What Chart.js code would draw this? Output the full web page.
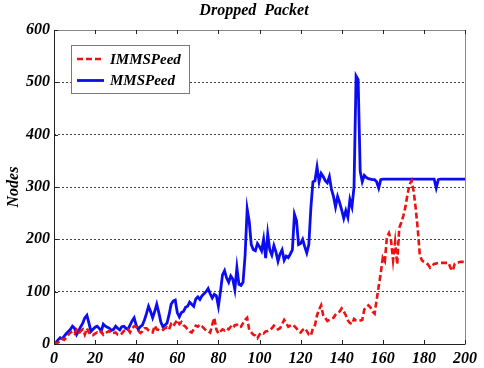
<!DOCTYPE html>
<html>
<head>
<meta charset="utf-8">
<script src="https://cdn.jsdelivr.net/npm/chart.js@4/dist/chart.umd.min.js"></script>
<style>
html,body{margin:0;padding:0;background:#fff;}
#wrap{width:484px;height:368px;position:relative;}
</style>
</head>
<body>
<div id="wrap"><canvas id="c" width="484" height="368"></canvas></div>
<script>
const chartTitle = "Dropped  Packet";
const yTitle = "Nodes";
const xTicks = [0,20,40,60,80,100,120,140,160,180,200];
const yTicks = [0,100,200,300,400,500,600];
const seriesNames = ["IMMSPeed","MMSPeed"];

const immspeed = [0,2,3,5,10,8,12,18,22,24,20,27,20,25,28,18,30,22,17,17,
20,22,20,24,18,22,23,25,20,21,22,18,17,20,25,26,28,22,30,34,
33,26,21,24,30,30,26,23,22,35,28,27,25,27,30,32,28,38,34,40,
46,38,42,36,33,28,24,22,28,35,33,37,34,30,26,25,22,37,50,28,
20,24,28,26,30,28,33,30,36,37,32,33,40,46,50,27,22,18,16,11,
18,22,20,24,25,27,30,35,33,28,30,38,46,40,33,35,37,34,30,24,
22,27,30,25,18,16,30,36,55,66,74,55,50,44,46,48,50,56,60,62,
68,62,55,45,40,38,48,45,44,45,46,66,70,74,70,62,58,84,110,135,
165,158,204,212,198,160,195,152,222,232,245,262,285,305,312,292,260,220,170,160,
157,155,152,146,150,153,154,155,155,155,155,155,155,145,140,153,155,156,157,157,157];

const mmspeed = [0,3,8,12,10,15,20,24,28,34,30,18,25,33,40,50,55,40,24,28,
32,34,30,24,38,34,32,30,26,28,34,30,27,33,34,30,28,36,44,50,
36,28,33,36,46,58,72,62,50,62,76,60,42,33,36,40,56,76,82,84,
60,52,60,62,70,72,80,76,72,86,90,85,92,96,100,106,96,88,95,92,
72,100,132,140,126,118,130,124,104,146,114,112,118,170,258,234,190,180,178,192,
186,178,200,164,210,180,170,188,176,158,172,180,160,168,165,172,180,248,236,190,
192,200,186,174,190,260,310,312,338,310,326,320,312,308,320,296,282,262,282,270,
256,240,255,242,276,262,300,512,505,330,310,322,318,316,315,314,314,310,298,314,
315,315,315,315,315,315,315,315,315,315,315,315,315,315,315,315,315,315,315,315,
315,315,315,315,315,315,298,314,315,315,315,315,315,315,315,315,315,315,315,315,315];

const labels = immspeed.map((_, i) => i);

const serif = "'Liberation Serif','DejaVu Serif',serif";

const boxPlugin = {
  id: 'boxPlugin',
  beforeDraw(chart) {
    const {ctx} = chart;
    ctx.save();
    ctx.fillStyle = '#fff';
    ctx.fillRect(0, 0, chart.width, chart.height);
    ctx.restore();
  },
  afterDatasetsDraw(chart) {
    const {ctx, chartArea: a} = chart;
    const xs = chart.scales.x, ys = chart.scales.y;
    ctx.save();
    ctx.strokeStyle = '#222';
    ctx.lineWidth = 1;
    ctx.beginPath();
    ctx.moveTo(a.left + 0.5, a.top + 0.5);
    ctx.lineTo(a.left + 0.5, a.bottom + 0.5);
    ctx.lineTo(a.right + 0.5, a.bottom + 0.5);
    ctx.stroke();
    ctx.strokeStyle = '#888';
    ctx.beginPath();
    ctx.moveTo(a.left + 0.5, a.top + 0.5);
    ctx.lineTo(a.right + 0.5, a.top + 0.5);
    ctx.lineTo(a.right + 0.5, a.bottom + 0.5);
    ctx.stroke();
    ctx.strokeStyle = '#222';
    ctx.beginPath();
    xTicks.forEach(v => {
      const px = Math.round(xs.getPixelForValue(v)) + 0.5;
      ctx.moveTo(px, a.bottom); ctx.lineTo(px, a.bottom - 4);
      ctx.moveTo(px, a.top); ctx.lineTo(px, a.top + 4);
    });
    yTicks.forEach(v => {
      const py = Math.round(ys.getPixelForValue(v)) + 0.5;
      ctx.moveTo(a.left, py); ctx.lineTo(a.left + 4, py);
    });
    ctx.stroke();

    const lx = 71, ly = 45, lw = 118, lh = 48;
    ctx.fillStyle = '#fff';
    ctx.fillRect(lx, ly, lw, lh);
    ctx.strokeStyle = '#777';
    ctx.lineWidth = 1;
    ctx.strokeRect(lx + 0.5, ly + 0.5, lw, lh);
    chart.data.datasets.forEach((ds, i) => {
      const y = ly + 14 + i * 21.5;
      ctx.strokeStyle = ds.borderColor;
      ctx.lineWidth = ds.borderWidth;
      ctx.setLineDash(ds.borderDash || []);
      ctx.beginPath();
      ctx.moveTo(lx + 6, y);
      ctx.lineTo(lx + 33, y);
      ctx.stroke();
      ctx.setLineDash([]);
      ctx.fillStyle = '#000';
      ctx.font = "italic bold 15px " + serif;
      ctx.textBaseline = 'middle';
      ctx.textAlign = 'left';
      ctx.fillText(ds.label, lx + 39, y + 1);
    });
    ctx.fillStyle = '#000';
    ctx.font = "italic bold 16px " + serif;
    ctx.textAlign = 'center';
    ctx.textBaseline = 'middle';
    ctx.fillText(chartTitle, 254, 11);
    ctx.restore();
  }
};

new Chart(document.getElementById('c'), {
  type: 'line',
  data: {
    labels: labels,
    datasets: [
      {
        label: seriesNames[0],
        data: immspeed,
        borderColor: '#ee1111',
        borderWidth: 2.6,
        borderDash: [6, 3],
        pointRadius: 0,
        tension: 0,
        fill: false
      },
      {
        label: seriesNames[1],
        data: mmspeed,
        borderColor: '#0c0cf0',
        borderWidth: 2.8,
        pointRadius: 0,
        tension: 0,
        fill: false
      }
    ]
  },
  options: {
    responsive: false,
    animation: false,
    devicePixelRatio: 1,
    layout: { padding: { top: 30, right: 19, left: 0, bottom: 0 } },
    plugins: {
      legend: { display: false },
      title: { display: false },
      tooltip: { enabled: false }
    },
    scales: {
      x: {
        type: 'linear',
        min: 0, max: 200,
        afterBuildTicks(s) { s.ticks = xTicks.map(v => ({ value: v })); },
        afterFit(s) { s.height = 24; },
        grid: { display: false, drawTicks: false },
        border: { display: false },
        ticks: {
          padding: 5,
          color: '#000',
          maxRotation: 0,
          font: { family: serif, size: 16, style: 'italic', weight: 'bold' }
        }
      },
      y: {
        min: 0, max: 600,
        afterBuildTicks(s) { s.ticks = yTicks.map(v => ({ value: v })); },
        afterFit(s) { s.width = 54; },
        grid: {
          drawTicks: false,
          color: ctx => (ctx.tick && (ctx.tick.value === 0 || ctx.tick.value === 600)) ? 'rgba(0,0,0,0)' : '#444',
          lineWidth: 1
        },
        border: { display: false, dash: [2, 2] },
        title: {
          display: true,
          text: yTitle,
          color: '#000',
          padding: { top: 4, bottom: 0 },
          font: { family: serif, size: 16, style: 'italic', weight: 'bold' }
        },
        ticks: {
          padding: 4,
          color: '#000',
          font: { family: serif, size: 16, style: 'italic', weight: 'bold' }
        }
      }
    }
  },
  plugins: [boxPlugin]
});
</script>
</body>
</html>
